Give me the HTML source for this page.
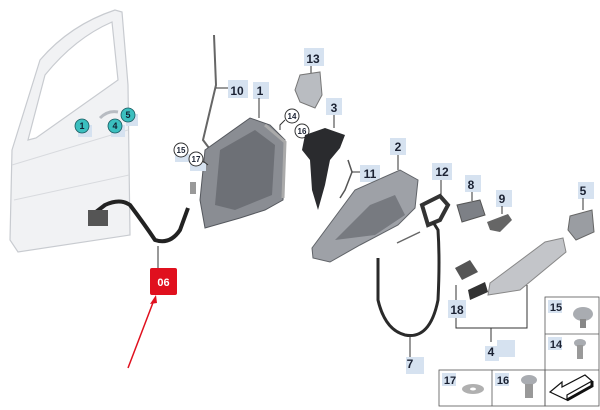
<!DOCTYPE html>
<html><head><style>
html,body{margin:0;padding:0;background:#fff;}
svg{display:block;}
text{font-family:"Liberation Sans",sans-serif;font-weight:bold;}
</style></head><body>
<svg width="600" height="410" viewBox="0 0 600 410" xmlns="http://www.w3.org/2000/svg">
<!-- door -->
<path d="M12,150 L40,60 Q70,25 115,10 L122,12 L128,85 L130,235 L18,252 L10,240 Z" fill="#f1f2f4" stroke="#c8cbd0" stroke-width="1.2"/>
<path d="M28,140 L45,75 Q75,38 112,22 L118,80 L36,138 Z" fill="#fff" stroke="#c8cbd0" stroke-width="1.2"/>
<path d="M12,165 L128,130 M14,200 L129,175" stroke="#d8dade" fill="none"/>
<path d="M100,118 Q108,110 118,112" stroke="#b8bcc2" stroke-width="3" fill="none"/>
<!-- teal markers -->
<rect x="78" y="125" width="14" height="12" fill="#d6e2f0"/><rect x="111" y="125" width="14" height="12" fill="#d6e2f0"/><rect x="126" y="114" width="12" height="12" fill="#d6e2f0"/>
<g fill="#3bbfbf" stroke="#1a5a60" stroke-width="0.8">
<circle cx="82" cy="126" r="7"/><circle cx="115" cy="126" r="7"/><circle cx="128" cy="115" r="7"/></g>
<g font-size="9" fill="#123" text-anchor="middle"><text x="82" y="129">1</text><text x="115" y="129">4</text><text x="128" y="118">5</text></g>
<!-- cable 06 -->
<path d="M92,215 L105,205 Q120,198 130,205 Q145,225 155,240 Q170,245 180,230 L188,208" stroke="#222" stroke-width="4" fill="none"/>
<rect x="88" y="210" width="20" height="16" fill="#555"/>
<rect x="190" y="182" width="6" height="12" fill="#999"/>
<line x1="158" y1="246" x2="158" y2="268" stroke="#333"/>
<rect x="150" y="268" width="27" height="27" fill="#e0101e" rx="2"/>
<text x="163.5" y="286" font-size="11" fill="#fff" text-anchor="middle">06</text>
<line x1="128" y1="368" x2="154" y2="300" stroke="#e0101e" stroke-width="1.5"/>
<polygon points="156,295 150,304 157,303" fill="#e0101e"/>
<!-- rod 10 -->
<path d="M214,35 L216,85 L203,140 L212,152" stroke="#666" stroke-width="2" fill="none"/>
<line x1="216" y1="88" x2="228" y2="88" stroke="#333"/>
<rect x="228" y="80" width="20" height="18" fill="#d6e2f0"/><text x="237" y="95" font-size="12" fill="#1b2233" text-anchor="middle">10</text>
<rect x="253" y="82" width="16" height="17" fill="#d6e2f0"/><text x="260" y="95" font-size="12" fill="#1b2233" text-anchor="middle">1</text>
<line x1="259" y1="98" x2="259" y2="118" stroke="#333"/>
<!-- lock body 1 -->
<path d="M205,150 L250,118 L270,125 L285,140 L283,200 L265,210 L240,218 L205,228 L200,200 Z" fill="#8a8d93" stroke="#55585e"/>
<path d="M220,150 L255,130 L275,145 L272,195 L235,210 L215,205 Z" fill="#6d7076"/>
<path d="M265,125 L285,142 L283,198" stroke="#aaa" stroke-width="3" fill="none"/>
<!-- 15 17 circles -->
<rect x="175" y="154" width="16" height="8" fill="#d6e2f0"/><rect x="190" y="163" width="16" height="8" fill="#d6e2f0"/>
<circle cx="181" cy="150" r="7" fill="#fff" stroke="#333"/><text x="181" y="153" font-size="8" fill="#1b2233" text-anchor="middle">15</text>
<circle cx="196" cy="159" r="7" fill="#fff" stroke="#333"/><text x="196" y="162" font-size="8" fill="#1b2233" text-anchor="middle">17</text>
<line x1="203" y1="161" x2="208" y2="165" stroke="#333"/>
<!-- 14 16 -->
<circle cx="292" cy="116" r="7" fill="#fff" stroke="#333"/><text x="292" y="119" font-size="8" fill="#1b2233" text-anchor="middle">14</text>
<path d="M285,120 L280,125 L280,130" stroke="#333" fill="none"/>
<circle cx="302" cy="131" r="7" fill="#fff" stroke="#333"/><text x="302" y="134" font-size="8" fill="#1b2233" text-anchor="middle">16</text>
<!-- 13 -->
<rect x="304" y="48" width="20" height="18" fill="#d6e2f0"/><text x="313" y="63" font-size="12" fill="#1b2233" text-anchor="middle">13</text>
<line x1="311" y1="66" x2="311" y2="80" stroke="#333"/>
<path d="M295,90 L300,75 L320,72 L322,95 L315,108 L300,102 Z" fill="#b9bcc1" stroke="#777"/>
<!-- 3 -->
<rect x="326" y="98" width="16" height="17" fill="#d6e2f0"/><text x="334" y="112" font-size="12" fill="#1b2233" text-anchor="middle">3</text>
<line x1="334" y1="115" x2="334" y2="128" stroke="#333"/>
<path d="M305,135 L325,128 L345,135 L340,148 L330,160 L325,185 L318,210 L312,190 L310,160 L302,150 Z" fill="#2a2b2e"/>
<!-- 11 -->
<path d="M348,160 L352,172 L345,190 L340,198" stroke="#555" stroke-width="1.5" fill="none"/>
<line x1="352" y1="172" x2="360" y2="172" stroke="#333"/>
<rect x="360" y="165" width="20" height="17" fill="#d6e2f0"/><text x="370" y="178" font-size="12" fill="#1b2233" text-anchor="middle">11</text>
<!-- 2 carrier -->
<rect x="390" y="138" width="16" height="17" fill="#d6e2f0"/><text x="398" y="151" font-size="12" fill="#1b2233" text-anchor="middle">2</text>
<line x1="398" y1="155" x2="398" y2="170" stroke="#333"/>
<path d="M312,248 L355,190 L400,170 L418,180 L415,208 L398,225 L360,245 L330,262 L313,258 Z" fill="#9ea1a7" stroke="#606368"/>
<path d="M335,240 L370,205 L395,195 L405,215 L375,235 Z" fill="#777a80"/>
<!-- 12 -->
<rect x="432" y="163" width="20" height="17" fill="#d6e2f0"/><text x="442" y="176" font-size="12" fill="#1b2233" text-anchor="middle">12</text>
<line x1="441" y1="180" x2="441" y2="196" stroke="#333"/>
<path d="M422,205 L440,196 L448,205 L440,220 L428,225 Z" fill="#fff" stroke="#333" stroke-width="4"/>
<!-- 8 -->
<rect x="465" y="175" width="16" height="17" fill="#d6e2f0"/><text x="471" y="189" font-size="12" fill="#1b2233" text-anchor="middle">8</text>
<line x1="472" y1="192" x2="472" y2="201" stroke="#333"/>
<path d="M457,205 L480,200 L485,215 L462,222 Z" fill="#7d8086" stroke="#555"/>
<!-- 9 -->
<rect x="496" y="190" width="16" height="17" fill="#d6e2f0"/><text x="502" y="203" font-size="12" fill="#1b2233" text-anchor="middle">9</text>
<line x1="502" y1="206" x2="502" y2="214" stroke="#333"/>
<path d="M487,222 L508,214 L512,220 L500,232 L490,230 Z" fill="#666"/>
<!-- 5 -->
<rect x="578" y="182" width="16" height="17" fill="#d6e2f0"/><text x="583" y="195" font-size="12" fill="#1b2233" text-anchor="middle">5</text>
<line x1="583" y1="198" x2="583" y2="210" stroke="#333"/>
<path d="M570,216 L592,210 L594,232 L576,240 L568,230 Z" fill="#9a9da2" stroke="#666"/>
<!-- handle 4 -->
<path d="M490,283 L545,242 L563,238 L566,252 L520,290 L488,295 Z" fill="#c3c5c9" stroke="#888"/>
<path d="M455,268 L470,260 L478,272 L462,280 Z" fill="#555"/>
<path d="M468,290 L485,282 L488,292 L470,300 Z" fill="#333"/>
<!-- bracket 4 -->
<polyline points="456,285 456,328 527,328 527,285" fill="none" stroke="#333"/>
<line x1="491" y1="328" x2="491" y2="342" stroke="#333"/>
<rect x="448" y="300" width="18" height="18" fill="#d6e2f0"/><text x="457" y="314" font-size="12" fill="#1b2233" text-anchor="middle">18</text>
<rect x="497" y="340" width="18" height="17" fill="#d6e2f0"/>
<rect x="485" y="346" width="14" height="15" fill="#d6e2f0"/><text x="491" y="356" font-size="12" fill="#1b2233" text-anchor="middle">4</text>
<!-- cable 7 -->
<path d="M378,258 L378,300 Q385,330 405,335 Q430,340 438,300 Q440,260 438,230 L433,222" stroke="#2a2a2a" stroke-width="3" fill="none"/>
<path d="M397,243 L420,232" stroke="#666" stroke-width="1.5"/>
<line x1="410" y1="335" x2="410" y2="357" stroke="#333"/>
<rect x="406" y="357" width="18" height="17" fill="#d6e2f0"/><text x="410" y="368" font-size="12" fill="#1b2233" text-anchor="middle">7</text>
<!-- parts table -->
<g fill="none" stroke="#555" stroke-width="0.8">
<rect x="545" y="297" width="54" height="109"/><line x1="545" y1="334" x2="599" y2="334"/><line x1="545" y1="370" x2="599" y2="370"/>
<rect x="439" y="370" width="106" height="36"/><line x1="492" y1="370" x2="492" y2="406"/></g>
<rect x="548" y="300" width="14" height="13" fill="#d6e2f0"/><text x="556" y="311" font-size="11" fill="#1b2233" text-anchor="middle">15</text>
<ellipse cx="583" cy="314" rx="10" ry="7" fill="#a9acb1"/><rect x="580" y="319" width="6" height="9" fill="#888"/>
<rect x="548" y="337" width="14" height="13" fill="#d6e2f0"/><text x="556" y="348" font-size="11" fill="#1b2233" text-anchor="middle">14</text>
<ellipse cx="580" cy="343" rx="6" ry="4" fill="#a9acb1"/><rect x="577" y="345" width="6" height="14" fill="#999"/>
<rect x="442" y="373" width="14" height="13" fill="#d6e2f0"/><text x="450" y="384" font-size="11" fill="#1b2233" text-anchor="middle">17</text>
<ellipse cx="473" cy="389" rx="11" ry="5" fill="#b0b0b0"/><ellipse cx="473" cy="389" rx="3" ry="1.5" fill="#fff"/>
<rect x="495" y="373" width="14" height="13" fill="#d6e2f0"/><text x="503" y="384" font-size="11" fill="#1b2233" text-anchor="middle">16</text>
<ellipse cx="529" cy="380" rx="8" ry="5" fill="#a9acb1"/><rect x="525" y="384" width="8" height="14" fill="#999"/>
<path d="M550,392 L562,382 L562,387 L585,375 L592,381 L567,395 L567,400 Z" fill="#fff" stroke="#111" stroke-width="1.2"/>
<path d="M567,400 L592,386 L592,381" fill="none" stroke="#111" stroke-width="3"/>
</svg>
</body></html>
